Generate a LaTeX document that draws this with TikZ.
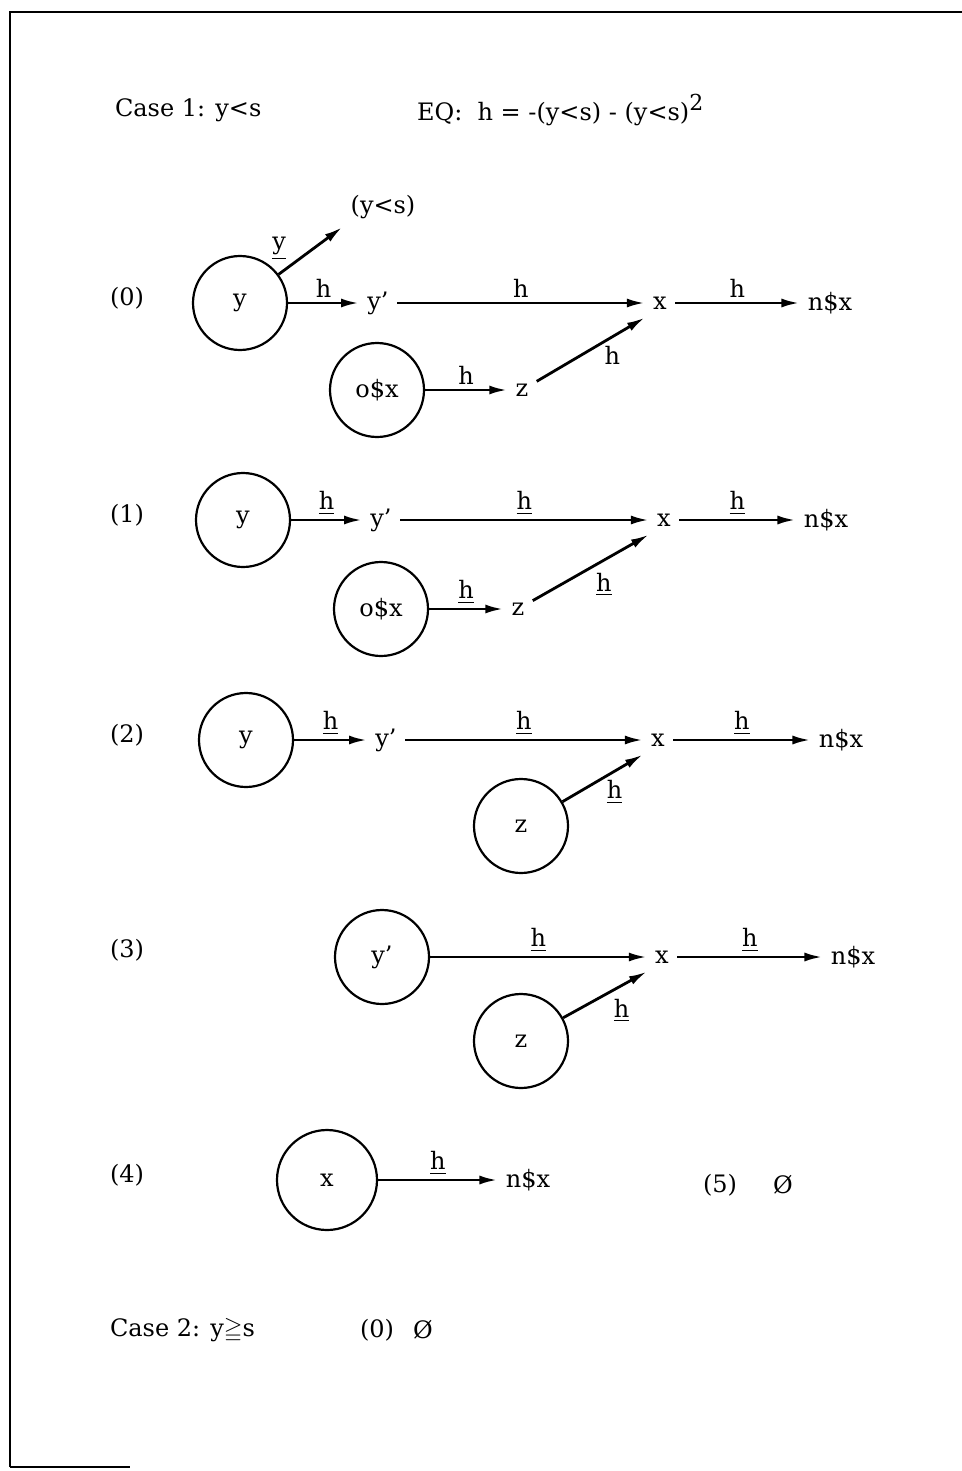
\documentclass[tikz,border=0pt]{standalone}
\usepackage{fontspec}
\setmainfont{DejaVu Serif}
\usepackage{amssymb}
\usetikzlibrary{arrows.meta, positioning}

\begin{document}
\begin{tikzpicture}[x=0.5pt, y=-0.5pt, font=\fontsize{12}{14}\selectfont,
    state/.style={circle, draw, line width=1.1pt, minimum size=47pt, inner sep=0pt},
    var/.style={inner sep=4pt},
    line/.style={draw, -{Latex[length=9pt,width=4.5pt]}, line width=1.4pt},
    lab/.style={inner sep=2pt}]

    \useasboundingbox (0,0) rectangle (962,1471);
    % frame
    \draw[line width=1.4pt] (10,1467) -- (10,12) -- (962,12);
    \draw[line width=1.4pt] (10,1467) -- (130,1467);

    \node[anchor=west] (case1) at (108,110) {Case 1: y<s};
    \node[anchor=west] (eq) at (410,110) {EQ:\ \ h = -(y<s) - (y<s)\raisebox{0.75ex}{\fontsize{11}{13}\selectfont 2}};

    % (0)
    \node (n0) at (127,298) {(0)};
    \node[state] (y0) at (240,303) {y};
    \node[var] (ylts) at (383,207) {(y<s)};
    \node[var] (yp0) at (378,303) {y'};
    \node[var] (x0) at (660,303) {x};
    \node[var] (nx0) at (830,303) {n\$x};
    \node[state] (o0) at (377,390) {o\$x};
    \node[var] (z0) at (522,390) {z};

    \path[line] (y0) -- (ylts.south west) node[lab, pos=0.2, above left] {\underline{y}};
    \path[line] (y0) -- (yp0) node[lab, midway, above] {h};
    \path[line] (yp0) -- (x0) node[lab, midway, above] {h};
    \path[line] (x0) -- (nx0) node[lab, midway, above] {h};
    \path[line] (o0) -- (z0) node[lab, midway, above] {h};
    \path[line] (z0) -- (x0.south west) node[lab, pos=0.7, below=2pt] {h};

    % (1)
    \node (n1) at (127,515) {(1)};
    \node[state] (y1) at (243,520) {y};
    \node[var] (yp1) at (381,520) {y'};
    \node[var] (x1) at (664,520) {x};
    \node[var] (nx1) at (826,520) {n\$x};
    \node[state] (o1) at (381,609) {o\$x};
    \node[var] (z1) at (518,609) {z};

    \path[line] (y1) -- (yp1) node[lab, midway, above] {\underline{h}};
    \path[line] (yp1) -- (x1) node[lab, midway, above] {\underline{h}};
    \path[line] (x1) -- (nx1) node[lab, midway, above] {\underline{h}};
    \path[line] (o1) -- (z1) node[lab, midway, above] {\underline{h}};
    \path[line] (z1) -- (x1.south west) node[lab, midway, below right] {\underline{h}};

    % (2)
    \node (n2) at (127,735) {(2)};
    \node[state] (y2) at (246,740) {y};
    \node[var] (yp2) at (386,740) {y'};
    \node[var] (x2) at (658,740) {x};
    \node[var] (nx2) at (841,740) {n\$x};
    \node[state] (z2) at (521,826) {z};

    \path[line] (y2) -- (yp2) node[lab, midway, above] {\underline{h}};
    \path[line] (yp2) -- (x2) node[lab, midway, above] {\underline{h}};
    \path[line] (x2) -- (nx2) node[lab, midway, above] {\underline{h}};
    \path[line] (z2) -- (x2.south west) node[lab, pos=0.65, below=2pt] {\underline{h}};

    % (3)
    \node (n3) at (127,950) {(3)};
    \node[state] (yp3) at (382,957) {y'};
    \node[var] (x3) at (662,957) {x};
    \node[var] (nx3) at (853,957) {n\$x};
    \node[state] (z3) at (521,1041) {z};

    \path[line] (yp3) -- (x3) node[lab, midway, above] {\underline{h}};
    \path[line] (x3) -- (nx3) node[lab, midway, above] {\underline{h}};
    \path[line] (z3) -- (x3.south west) node[lab, pos=0.7, below=4pt] {\underline{h}};

    % (4) and (5)
    \node (n4) at (127,1175) {(4)};
    \node[state, minimum size=50pt] (x4) at (327,1180) {x};
    \node[var] (nx4) at (528,1180) {n\$x};
    \path[line] (x4) -- (nx4) node[lab, midway, above] {\underline{h}};
    \node (n5) at (720,1185) {(5)};
    \node (e5) at (783,1185) {\O};

    % case 2
    \node[anchor=west] (case2) at (103,1330) {Case 2: y$\geqq$s};
    \node (c2n0) at (377,1330) {(0)};
    \node (c2e) at (423,1330) {\O};
\end{tikzpicture}
\end{document}
